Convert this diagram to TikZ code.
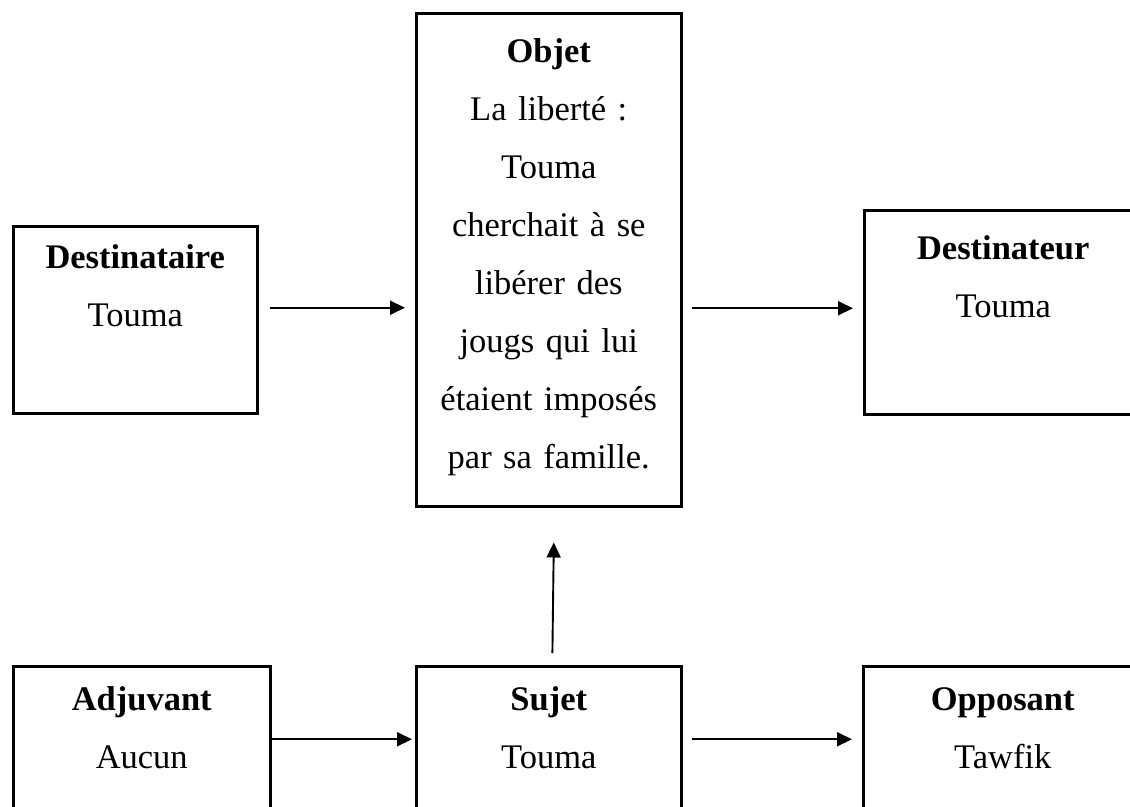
\documentclass[tikz,border=0pt]{standalone}
\usepackage{fontspec}
\setmainfont{Liberation Serif}
\usetikzlibrary{arrows.meta}

\begin{document}
\begin{tikzpicture}[x=1pt,y=-1pt,>={Triangle[length=15pt,width=14pt]}]
	\tikzstyle{box} = [draw=black,line width=2.5pt,inner sep=0pt,anchor=north west];
	\tikzstyle{lbl} = [anchor=base,align=center,text width=250pt,inner sep=0pt,font=\fontsize{34.5}{58}\selectfont];
	\tikzstyle{arr} = [line width=1.9pt];
	\useasboundingbox (0,0) rectangle (1130,806);
	% les six cases
	\node[box,minimum width=244pt,minimum height=187pt] (destinataire) at (12,225) {};
	\node[box,minimum width=265pt,minimum height=493pt] (objet) at (415,12) {};
	\node[box,minimum width=278pt,minimum height=204pt] (destinateur) at (863,209) {};
	\node[box,minimum width=257pt,minimum height=170pt] (adjuvant) at (12,665) {};
	\node[box,minimum width=265pt,minimum height=170pt] (sujet) at (415,665) {};
	\node[box,minimum width=279pt,minimum height=170pt] (opposant) at (862,665) {};
	% les textes
	\node[lbl] (destinataire-txt) at ([yshift=-43pt]destinataire.north) {\textbf{Destinataire}\\Touma};
	\node[lbl] (objet-txt) at ([yshift=-50pt]objet.north) {\textbf{Objet}\\La liberté :\\Touma\\cherchait à se\\libérer des\\jougs qui lui\\étaient imposés\\par sa famille.};
	\node[lbl] (destinateur-txt) at ([yshift=-50pt]destinateur.north) {\textbf{Destinateur}\\Touma};
	\node[lbl] (adjuvant-txt) at ([yshift=-45pt]adjuvant.north) {\textbf{Adjuvant}\\Aucun};
	\node[lbl] (sujet-txt) at ([yshift=-45pt]sujet.north) {\textbf{Sujet}\\Touma};
	\node[lbl] (opposant-txt) at ([yshift=-45pt]opposant.north) {\textbf{Opposant}\\Tawfik};
	% les fleches
	\draw[->,arr,shorten <=11pt,shorten >=10pt] ([yshift=12pt]destinataire.east) -- ([yshift=-48pt]objet.west);
	\draw[->,arr,shorten <=9pt,shorten >=10pt] ([yshift=-48.5pt]objet.east) -- ([yshift=4pt]destinateur.west);
	\draw[->,arr,shorten <=12pt,shorten >=35pt] ([xshift=3.5pt]sujet.north) -- ([xshift=5.5pt]objet.south);
	\draw[->,arr,shorten <=-3pt,shorten >=3pt] ([yshift=12pt]adjuvant.east) -- ([yshift=12pt]sujet.west);
	\draw[->,arr,shorten <=9pt,shorten >=10pt] ([yshift=12pt]sujet.east) -- ([yshift=12pt]opposant.west);
\end{tikzpicture}
\end{document}
